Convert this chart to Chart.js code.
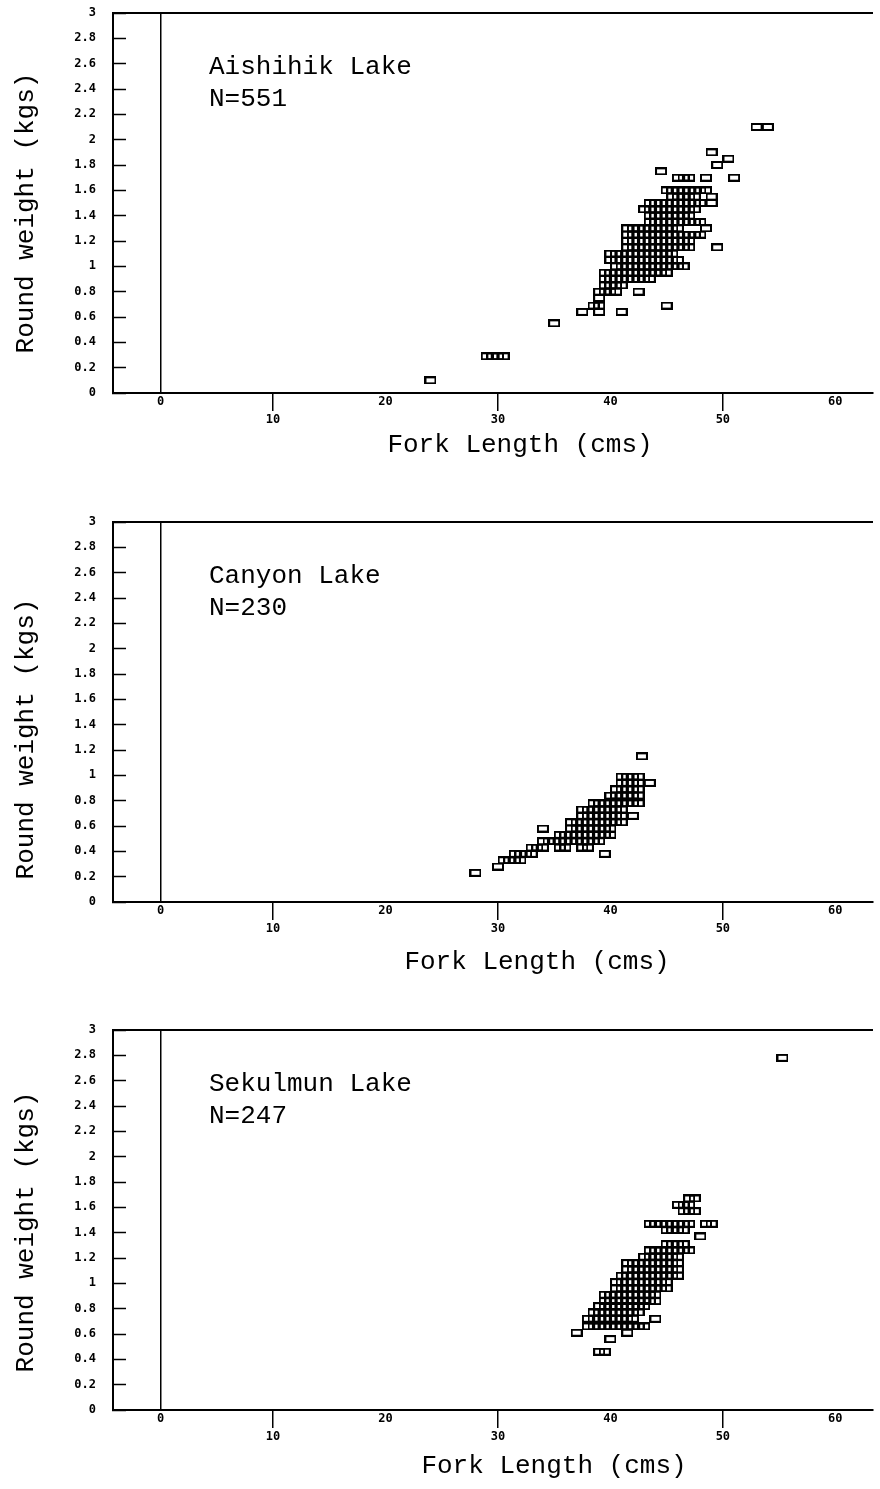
<!DOCTYPE html>
<html>
<head>
<meta charset="utf-8">
<script src="https://cdn.jsdelivr.net/npm/chart.js@4.4.0/dist/chart.umd.min.js"></script>
<style>
  html, body { margin: 0; padding: 0; background: #fff; }
  .panel { position: absolute; left: 0; width: 880px; }
</style>
</head>
<body>
<div class="panel" style="top:0px"><canvas id="aishihik" width="880" height="509"></canvas></div>
<div class="panel" style="top:509px"><canvas id="canyon" width="880" height="508"></canvas></div>
<div class="panel" style="top:1017px"><canvas id="sekulmun" width="880" height="472"></canvas></div>
<script>
// axis ticks
const xTickValues = [0, 10, 20, 30, 40, 50, 60];
const yTickValues = [0, 0.2, 0.4, 0.6, 0.8, 1, 1.2, 1.4, 1.6, 1.8, 2, 2.2, 2.4, 2.6, 2.8, 3];
const xTitle = 'Fork Length (cms)';
const yTitle = 'Round weight (kgs)';

// [round weight (kg), fork lengths (cm) of the fish at that weight]
const aishihikRows = [
  [0.10, [24]],
  [0.29, [29, 29.5, 30, 30.5]],
  [0.55, [35]],
  [0.64, [37.5, 39, 41]],
  [0.69, [38.5, 39, 45]],
  [0.75, [39]],
  [0.80, [39, 39.5, 40, 40.5, 42.5]],
  [0.85, [39.5, 40, 40.5, 41]],
  [0.90, [39.5, 40, 40.5, 41, 41.5, 42, 42.5, 43, 43.5]],
  [0.95, [39.5, 40, 40.5, 41, 41.5, 42, 42.5, 43, 43.5, 44, 44.5, 45]],
  [1.00, [40.5, 41, 41.5, 42, 42.5, 43, 43.5, 44, 44.5, 45, 45.5, 46, 46.5]],
  [1.05, [40, 40.5, 41, 41.5, 42, 42.5, 43, 43.5, 44, 44.5, 45, 45.5, 46]],
  [1.10, [40, 40.5, 41, 41.5, 42, 42.5, 43, 43.5, 44, 44.5, 45, 45.5]],
  [1.15, [41.5, 42, 42.5, 43, 43.5, 44, 44.5, 45, 45.5, 46, 46.5, 47, 49.5]],
  [1.20, [41.5, 42, 42.5, 43, 43.5, 44, 44.5, 45, 45.5, 46, 46.5, 47]],
  [1.25, [41.5, 42, 42.5, 43, 43.5, 44, 44.5, 45, 45.5, 46, 46.5, 47, 47.5, 48]],
  [1.30, [41.5, 42, 42.5, 43, 43.5, 44, 44.5, 45, 45.5, 46, 48.5]],
  [1.35, [43.5, 44, 44.5, 45, 45.5, 46, 46.5, 47, 47.5, 48]],
  [1.40, [43.5, 44, 44.5, 45, 45.5, 46, 46.5, 47]],
  [1.45, [43, 43.5, 44, 44.5, 45, 45.5, 46, 46.5, 47, 47.5]],
  [1.50, [43.5, 44, 44.5, 45, 45.5, 46, 46.5, 47, 47.5, 48, 49]],
  [1.55, [45.5, 46, 46.5, 47, 47.5, 49]],
  [1.60, [45, 45.5, 46, 46.5, 47, 47.5, 48, 48.5]],
  [1.70, [46, 46.5, 47, 48.5, 51]],
  [1.75, [44.5]],
  [1.80, [49.5]],
  [1.85, [50.5]],
  [1.90, [49]],
  [2.10, [53, 54]]
];

const canyonRows = [
  [0.23, [28]],
  [0.28, [30]],
  [0.33, [30.5, 31, 31.5, 32]],
  [0.38, [31.5, 32, 32.5, 33, 39.5]],
  [0.43, [33, 33.5, 34, 35.5, 36, 37.5, 38]],
  [0.48, [34, 34.5, 35, 35.5, 36, 36.5, 37, 37.5, 38, 38.5, 39]],
  [0.53, [35.5, 36, 36.5, 37, 37.5, 38, 38.5, 39, 39.5, 40]],
  [0.58, [34, 36.5, 37, 37.5, 38, 38.5, 39, 39.5, 40]],
  [0.63, [36.5, 37, 37.5, 38, 38.5, 39, 39.5, 40, 40.5, 41]],
  [0.68, [37.5, 38, 38.5, 39, 39.5, 40, 40.5, 41, 42]],
  [0.73, [37.5, 38, 38.5, 39, 39.5, 40, 40.5, 41]],
  [0.78, [38.5, 39, 39.5, 40, 40.5, 41, 41.5, 42, 42.5]],
  [0.84, [40, 40.5, 41, 41.5, 42, 42.5]],
  [0.89, [40.5, 41, 41.5, 42, 42.5]],
  [0.94, [41, 41.5, 42, 42.5, 43.5]],
  [0.99, [41, 41.5, 42, 42.5]],
  [1.15, [42.8]]
];

const sekulmunRows = [
  [0.46, [39, 39.5]],
  [0.56, [40]],
  [0.61, [37, 41.5]],
  [0.66, [38, 38.5, 39, 39.5, 40, 40.5, 41, 41.5, 42, 42.5, 43]],
  [0.72, [38, 38.5, 39, 39.5, 40, 40.5, 41, 41.5, 42, 44]],
  [0.77, [38.5, 39, 39.5, 40, 40.5, 41, 41.5, 42, 42.5]],
  [0.82, [39, 39.5, 40, 40.5, 41, 41.5, 42, 42.5, 43]],
  [0.86, [39.5, 40, 40.5, 41, 41.5, 42, 42.5, 43, 43.5, 44]],
  [0.91, [39.5, 40, 40.5, 41, 41.5, 42, 42.5, 43, 43.5, 44]],
  [0.96, [40.5, 41, 41.5, 42, 42.5, 43, 43.5, 44, 44.5, 45]],
  [1.01, [40.5, 41, 41.5, 42, 42.5, 43, 43.5, 44, 44.5, 45]],
  [1.06, [41, 41.5, 42, 42.5, 43, 43.5, 44, 44.5, 45, 45.5, 46]],
  [1.11, [41.5, 42, 42.5, 43, 43.5, 44, 44.5, 45, 45.5, 46]],
  [1.16, [41.5, 42, 42.5, 43, 43.5, 44, 44.5, 45, 45.5, 46]],
  [1.21, [43, 43.5, 44, 44.5, 45, 45.5, 46]],
  [1.26, [43.5, 44, 44.5, 45, 45.5, 46, 46.5, 47]],
  [1.31, [45, 45.5, 46, 46.5]],
  [1.37, [48]],
  [1.42, [45, 45.5, 46, 46.5]],
  [1.47, [43.5, 44, 44.5, 45, 45.5, 46, 46.5, 47, 48.5, 49]],
  [1.57, [46.5, 47, 47.5]],
  [1.62, [46, 46.5, 47]],
  [1.67, [47, 47.5]],
  [2.78, [55.3]]
];

function toPoints(rows) {
  const pts = [];
  rows.forEach(([w, lengths]) => lengths.forEach(l => pts.push({ x: l, y: w })));
  return pts;
}

// hollow oblong box, like the old plotter symbol
function boxMarker() {
  const c = document.createElement('canvas');
  c.width = 12; c.height = 8;
  const g = c.getContext('2d');
  g.strokeStyle = '#000';
  g.lineWidth = 2;
  g.strokeRect(1, 1, 10, 6);
  return c;
}
const marker = boxMarker();

const tickFont = { family: 'DejaVu Sans Mono', size: 12, weight: 'bold', lineHeight: 1.5 };
const textFont = '26px "Liberation Mono"';

// lake name, N and the two axis titles (text drawn on the canvas)
const captionPlugin = {
  id: 'captions',
  afterDraw(chart, args, o) {
    const { ctx, chartArea: a } = chart;
    ctx.save();
    ctx.fillStyle = '#000';
    ctx.font = textFont;
    ctx.textBaseline = 'alphabetic';
    ctx.textAlign = 'left';
    ctx.fillText(o.lake, a.left + 96, a.top + 61);
    ctx.fillText(o.count, a.left + 96, a.top + 93);

    ctx.textAlign = 'center';
    ctx.fillText(xTitle, o.xTitleX, o.xTitleY);

    ctx.textBaseline = 'middle';
    ctx.translate(26, o.yTitleY);
    ctx.rotate(-Math.PI / 2);
    ctx.fillText(yTitle, 0, 0);
    ctx.restore();

    // top edge of the frame
    ctx.save();
    ctx.strokeStyle = '#000';
    ctx.lineWidth = 2;
    ctx.beginPath();
    ctx.moveTo(a.left, a.top);
    ctx.lineTo(a.right, a.top);
    ctx.stroke();
    ctx.restore();
  }
};

const isOddTen = v => Math.round(v / 10) % 2 === 1;

function makePanel(id, rows, caption) {
  const canvas = document.getElementById(id);
  const xAxisHeight = canvas.height - 393;
  new Chart(canvas, {
    type: 'scatter',
    data: {
      datasets: [{
        data: toPoints(rows),
        pointStyle: marker,
        pointRadius: 6,
        pointHoverRadius: 6
      }]
    },
    options: {
      responsive: false,
      animation: false,
      events: [],
      layout: { padding: { top: 13, left: 0, right: 0, bottom: 0 } },
      plugins: {
        legend: { display: false },
        tooltip: { enabled: false },
        captions: caption
      },
      scales: {
        x: {
          type: 'linear',
          min: -4.23,
          max: 63.35,
          afterBuildTicks: s => { s.ticks = xTickValues.map(v => ({ value: v })); },
          afterFit: s => { s.height = xAxisHeight; s.paddingLeft = 0; s.paddingRight = 0; },
          border: { color: '#000', width: 2 },
          grid: {
            drawOnChartArea: true,
            color: c => (c.tick && c.tick.value === 0) ? '#000' : 'rgba(0,0,0,0)',
            lineWidth: 1.5,
            tickLength: 18,
            tickWidth: 1.5,
            tickColor: c => (c.tick && isOddTen(c.tick.value)) ? '#000' : 'rgba(0,0,0,0)'
          },
          ticks: {
            padding: -18,
            autoSkip: false,
            maxRotation: 0,
            color: '#000',
            font: tickFont,
            // labels alternate between two rows, as on the plot
            callback: v => isOddTen(v) ? ['', String(v)] : String(v)
          }
        },
        y: {
          min: 0,
          max: 3,
          afterBuildTicks: s => { s.ticks = yTickValues.map(v => ({ value: v })); },
          // fixed width; the wide label padding must not push the plot down
          afterFit: s => { s.width = 113; s.paddingTop = 0; s.paddingBottom = 0; },
          border: { color: '#000', width: 2 },
          grid: {
            drawOnChartArea: false,
            tickLength: -13,
            tickWidth: 1.5,
            tickColor: '#000'
          },
          ticks: {
            padding: 30,
            color: '#000',
            font: tickFont,
            callback: v => String(Math.round(v * 10) / 10)
          }
        }
      }
    },
    plugins: [captionPlugin]
  });
}

makePanel('aishihik', aishihikRows, { lake: 'Aishihik Lake', count: 'N=551', xTitleX: 520, xTitleY: 452, yTitleY: 213 });
makePanel('canyon', canyonRows, { lake: 'Canyon Lake', count: 'N=230', xTitleX: 537, xTitleY: 460, yTitleY: 230 });
makePanel('sekulmun', sekulmunRows, { lake: 'Sekulmun Lake', count: 'N=247', xTitleX: 554, xTitleY: 456, yTitleY: 215 });
</script>
</body>
</html>
